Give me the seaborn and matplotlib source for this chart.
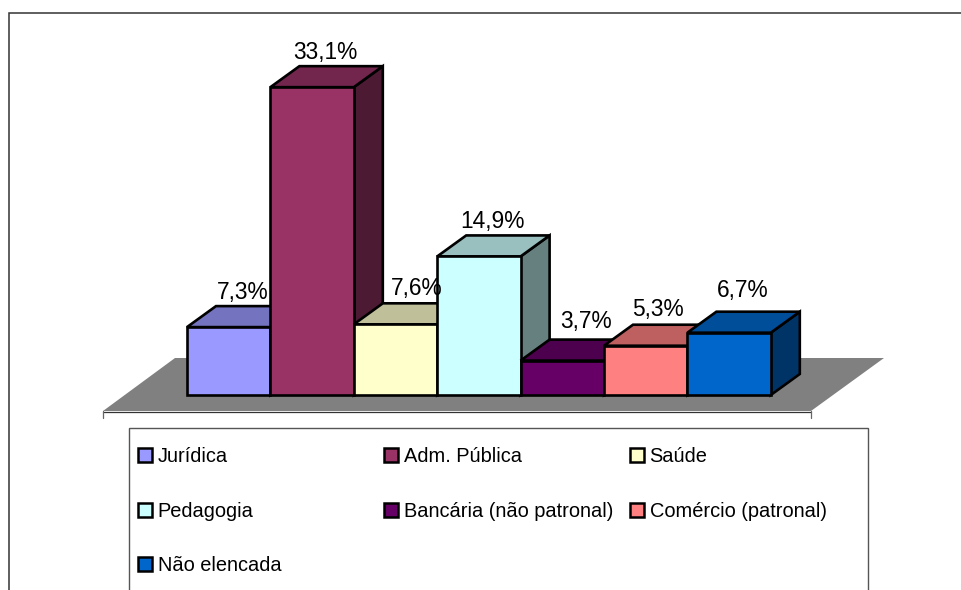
import matplotlib
matplotlib.use("Agg")
import matplotlib.pyplot as plt
from matplotlib.colors import to_rgb
from matplotlib.lines import Line2D
from matplotlib.patches import Patch, Polygon, Rectangle
import seaborn as sns

# =============================
# DADOS
# =============================
categorias = ["Jurídica", "Adm. Pública", "Saúde", "Pedagogia",
              "Bancária (não patronal)", "Comércio (patronal)", "Não elencada"]
valores = [7.3, 33.1, 7.6, 14.9, 3.7, 5.3, 6.7]
rotulos = ["7,3%", "33,1%", "7,6%", "14,9%", "3,7%", "5,3%", "6,7%"]
cores = ["#9999FF", "#993366", "#FFFFCC", "#CCFFFF", "#660066", "#FF8080", "#0066CC"]

# =============================
# ESCALA (pixels da imagem)
# =============================
W, H = 962, 590
PX_X = 83.4   # largura de uma barra
PX_Y = 9.3    # pixels por ponto percentual
X0 = 187 + PX_X / 2  # centro da primeira barra
Y0 = 395             # linha de base
DX = 29 / PX_X       # profundidade do efeito 3D
DY = 21 / PX_Y
LW = 1.9

# ajuste fino dos rotulos, em pontos (o original desloca alguns para nao sobrepor)
ajuste_x = [-0.7, -0.7, 5.0, -0.7, 6.8, -1.4, -0.7]
ajuste_y = [9.6, 9.6, 11.0, 10.0, 13.0, 10.6, 15.0]


def dx(px):
    return (px - X0) / PX_X


def dy(py):
    return (Y0 - py) / PX_Y


def sombra(cor, f):
    return tuple(c * f for c in to_rgb(cor))


sns.set_theme(style="white")
plt.rcParams["font.family"] = ["Liberation Sans", "DejaVu Sans"]

fig = plt.figure(figsize=(W / 100, H / 100), dpi=100)
ax = fig.add_axes([0, 0, 1, 1])

sns.barplot(x=categorias, y=valores, hue=categorias, palette=cores, order=categorias,
            hue_order=categorias, width=1.0, dodge=False, edgecolor="black",
            linewidth=LW, saturation=1, legend=False, ax=ax)
ax.set_xlim(dx(0), dx(W))
ax.set_ylim(dy(H), dy(0))
ax.set_axis_off()
barras = sorted([p for p in ax.patches if p.get_height() > 0], key=lambda p: p.get_x())

# moldura externa (sem borda direita nem inferior visiveis) e piso
ax.add_patch(Rectangle((dx(9), dy(640)), (1040 - 9) / PX_X, (640 - 13) / PX_Y,
                       fc="white", ec="#333333", lw=1.1, zorder=0))
ax.add_patch(Polygon([(dx(103), dy(411)), (dx(175), dy(358)), (dx(884), dy(358)), (dx(811), dy(411))],
                     fc="#808080", ec="none", zorder=1))
ax.add_line(Line2D([dx(103), dx(811)], [dy(411.5), dy(411.5)], color="#333333", lw=0.9, zorder=1.5))
for px in (103, 811):
    ax.add_line(Line2D([dx(px), dx(px)], [dy(411), dy(418)], color="#666666", lw=0.9, zorder=1.5))

# faces laterais e superiores de cada barra
for i, (b, cor, rot) in enumerate(zip(barras, cores, rotulos)):
    x1, x2, topo = b.get_x(), b.get_x() + b.get_width(), b.get_height()
    b.set_zorder(4 + 3 * i)
    b.set_joinstyle("miter")
    ax.add_patch(Polygon([(x2, 0), (x2 + DX, DY), (x2 + DX, topo + DY), (x2, topo)],
                         fc=sombra(cor, 0.5), ec="black", lw=LW, joinstyle="miter", zorder=2 + 3 * i))
    ax.add_patch(Polygon([(x1, topo), (x1 + DX, topo + DY), (x2 + DX, topo + DY), (x2, topo)],
                         fc=sombra(cor, 0.75), ec="black", lw=LW, joinstyle="miter", zorder=3 + 3 * i))
    ax.annotate(rot, (x1 + 0.5 + DX / 2, topo + DY), xytext=(ajuste_x[i], ajuste_y[i]), textcoords="offset points",
                ha="center", va="center", fontsize=16.4, color="black", zorder=100)

# legenda: uma coluna de cada vez, para manter o passo fixo entre colunas
ax.add_patch(Rectangle((dx(129), dy(640)), (868 - 129) / PX_X, (640 - 428) / PX_Y,
                       fc="white", ec="#555555", lw=1, zorder=90))
colunas = [[0, 3, 6], [1, 4], [2, 5]]
for k, col in enumerate(colunas):
    itens = [Patch(fc=cores[j], ec="black", lw=1.8) for j in col]
    leg = ax.legend(itens, [categorias[j] for j in col], frameon=False, fontsize=14.4,
                    labelcolor="black", handlelength=0.7, handleheight=0.7, handletextpad=0.28,
                    labelspacing=1.78, borderpad=0, borderaxespad=0, loc="upper left",
                    bbox_to_anchor=((138 + 246 * k) / W, 1 - 447 / H),
                    bbox_transform=fig.transFigure)
    leg.set_zorder(95)
    ax.add_artist(leg)
ax.legend_ = None

fig.savefig("out.png", dpi=100)
